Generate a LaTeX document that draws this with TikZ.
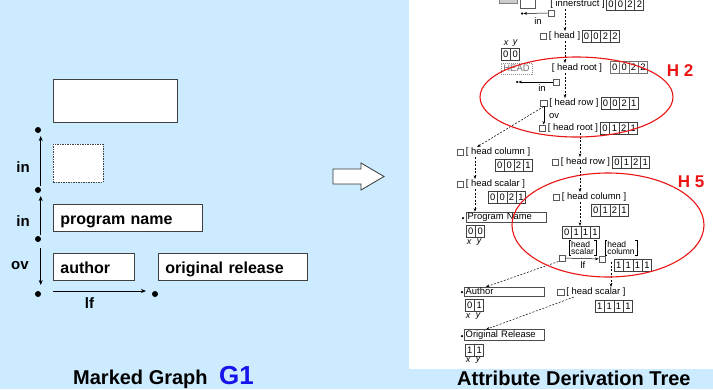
\documentclass[tikz,border=0pt]{standalone}
\usepackage{fontspec}
\setmainfont{Liberation Sans}
\usetikzlibrary{arrows.meta, positioning, shapes.multipart}

\definecolor{panel}{RGB}{204,235,255}
\definecolor{markred}{RGB}{235,20,20}
\definecolor{gblue}{RGB}{20,20,235}

\begin{document}
\begin{tikzpicture}[
  x=1pt, y=-1pt,
  font=\fontsize{9.4}{10}\selectfont,
  node distance=1.5pt,
  gbox/.style={
    draw=black!75,
    fill=white,
    line width=0.8pt,
    anchor=north west,
    inner sep=0pt,
    inner xsep=7pt,
    align=left,
    text height=13pt,
    text depth=0pt,
    font=\bfseries\fontsize{16}{16}\selectfont
  },
  gdot/.style={circle, fill=black, inner sep=0pt, minimum size=6pt},
  gtag/.style={font=\bfseries\fontsize{15}{15}\selectfont, inner sep=0pt},
  garr/.style={-{Stealth[length=5pt, width=4pt]}, line width=0.8pt},
  heading/.style={font=\bfseries\fontsize{20}{20}\selectfont, inner sep=0pt, anchor=base west},
  lab/.style={inner sep=0.5pt},
  sq/.style={draw=black!65, fill=white, inner sep=0pt, minimum size=6.5pt},
  vals/.style={
    rectangle split,
    rectangle split horizontal,
    draw=black!75,
    line width=0.6pt,
    inner xsep=1.8pt,
    inner ysep=2.6pt,
    anchor=west
  },
  leaf/.style={
    draw=black!70,
    anchor=west,
    inner xsep=1.5pt,
    inner ysep=1pt,
    text width=77pt,
    align=left
  },
  tdot/.style={circle, fill=black, inner sep=0pt, minimum size=2.5pt},
  xy/.style={font=\itshape\fontsize{9}{9}\selectfont, inner sep=0pt},
  darr/.style={dash pattern=on 2pt off 1.5pt, -{Stealth[length=3.5pt, width=2.8pt]}, line width=0.5pt},
  sarr/.style={-{Stealth[length=3.5pt, width=2.8pt]}, line width=0.5pt},
  hull/.style={draw=markred, line width=1.1pt},
  htag/.style={text=markred, font=\bfseries\fontsize{17}{17}\selectfont, inner sep=0pt},
  stack/.style={inner xsep=2pt, inner ysep=0.5pt, align=left, font=\fontsize{8.5}{7}\selectfont}
]
  \useasboundingbox (0,0) rectangle (713,389);
  \fill[panel] (0,0) rectangle (713,389);
  \fill[white] (409,0) rectangle (713,369);

  % Marked graph
  \node[gbox, minimum width=124pt, minimum height=43pt] (frame) at (53,79) {};
  \node[gbox, dash pattern=on 1.5pt off 1pt, minimum width=50pt, minimum height=38pt] (hole) at (53,144) {};
  \node[gbox, minimum width=149pt, minimum height=27pt, text width=135pt] (prog) at (53,204) {program name};
  \node[gbox, minimum width=81pt, minimum height=27pt, text width=67pt] (auth) at (53,253) {author};
  \node[gbox, minimum width=149pt, minimum height=27pt, text width=135pt] (orel) at (158,253) {original release};

  \node[gdot] (d1) at (38,130) {};
  \node[gdot] (d2) at (38,190) {};
  \node[gdot] (d3) at (38,239) {};
  \node[gdot] (d4) at (38,294) {};
  \node[gdot] (d5) at (155,294) {};

  \draw[garr, shorten <=4pt, shorten >=6pt] ([xshift=2.7pt]d2.center) -- ([xshift=2.7pt]d1.center);
  \draw[garr, shorten <=4pt, shorten >=6pt] ([xshift=2.7pt]d3.center) -- ([xshift=2.7pt]d2.center);
  \draw[garr, shorten <=9pt, shorten >=9pt] ([xshift=2.7pt]d3.center) -- ([xshift=2.7pt]d4.center);
  \draw[garr, shorten <=15pt, shorten >=9pt] ([yshift=3pt]d4.center) -- ([yshift=3pt]d5.center);

  \node[gtag] (in1) at (23,167) {in};
  \node[gtag] (in2) at (23,221) {in};
  \node[gtag] (ov) at (20,266) {ov};
  \node[gtag] (lf) at (89.5,303) {lf};

  \node[heading] (tl) at (73,384.5) {Marked Graph};
  \node[heading, text=gblue, font=\bfseries\fontsize{26}{26}\selectfont] (g1) at (219,384.5) {G1};

  % Block arrow
  \draw[draw=black!80, fill=white, line width=0.8pt]
    (333,169) -- (361,169) -- (361,163) -- (384,176.5) -- (361,190) -- (361,184) -- (333,184) -- cycle;

  \node[heading] (tr) at (457,385) {Attribute Derivation Tree};

  % Attribute derivation tree
  \begin{scope}
  \clip (409,0) rectangle (713,369);

  \coordinate (sp1) at (565,0);
  \coordinate (sp2) at (580,0);
  \coordinate (sp3) at (475,0);
  \coordinate (sp4) at (611,0);

  % innerstruct (cut by the frame)
  \node[draw=black!50, fill=black!20, minimum width=18pt, minimum height=11pt, inner sep=0pt] (cut) at (508,-2.5) {};
  \node[sq, minimum size=15pt] (isq) at (527.5,0.5) {};
  \node[lab] (inner) at (577.5,4) {[ innerstruct ]};
  \node[vals, rectangle split parts=4, right=1pt of inner] (innerv) {0\nodepart{two}0\nodepart{three}2\nodepart{four}2};

  \node[sq] (ina) at (551,13) {};
  \node[tdot] (inad) at (522,13.5) {};
  \draw[sarr] (ina) -- (inad);
  \node[lab] (ina-t) at (538,21) {in};

  % head
  \node[lab] (hd) at (564.5,36) {[ head ]};
  \node[sq, left=of hd] (hdsq) {};
  \node[vals, rectangle split parts=4, right=1pt of hd] (hdv) {0\nodepart{two}0\nodepart{three}2\nodepart{four}2};
  \draw[darr] (inner.south -| sp1) -- (hd.north -| sp1);

  \node[xy] (hx) at (506,43) {x};
  \node[xy] (hy) at (515,43) {y};
  \node[vals, rectangle split parts=2] (headv) at (501,54) {0\nodepart{two}0};
  \node[draw=black!45, dash pattern=on 1pt off 1pt, text=black!55, minimum width=31pt, minimum height=11pt, inner sep=0pt] (headbox) at (516.5,68.5) {HEAD};

  % head root
  \node[lab] (hr1) at (577,68) {[ head root ]};
  \node[vals, rectangle split parts=4, draw=black!55] (hr1v) at (610,67.5) {0\nodepart{two}0\nodepart{three}2\nodepart{four}2};
  \draw[darr] (hd.south -| sp1) -- (hr1.north -| sp1);

  \node[sq] (inb) at (556,82) {};
  \node[tdot] (inbd) at (517,82) {};
  \draw[sarr] (inb) -- (inbd);
  \node[lab] (inb-t) at (542,88) {in};

  % head row / head root
  \node[lab] (hrow1) at (574,103) {[ head row ]};
  \node[sq, left=of hrow1] (hrow1sq) {};
  \node[vals, rectangle split parts=4, right=1.5pt of hrow1] (hrow1v) {0\nodepart{two}0\nodepart{three}2\nodepart{four}1};
  \draw[darr] (hr1.south -| sp1) -- (hrow1.north -| sp1);

  \node[lab] (hr2) at (573,128) {[ head root ]};
  \node[sq, left=of hr2] (hr2sq) {};
  \node[vals, rectangle split parts=4, right=1.5pt of hr2] (hr2v) {0\nodepart{two}1\nodepart{three}2\nodepart{four}1};
  \draw[sarr] (hrow1sq.south) -- (hrow1sq.south |- hr2sq.north);
  \node[lab] (ov-t) at (554,116) {ov};

  % left column
  \node[lab] (hcol1) at (498,152) {[ head column ]};
  \node[sq, left=of hcol1] (hcol1sq) {};
  \node[vals, rectangle split parts=4] (hcol1v) at (495,165.5) {0\nodepart{two}0\nodepart{three}2\nodepart{four}1};
  \draw[darr] (hrow1sq.south) -- ([xshift=12pt]hcol1.north west);

  \node[lab] (hsc1) at (495.5,184) {[ head scalar ]};
  \node[sq, left=of hsc1] (hsc1sq) {};
  \node[vals, rectangle split parts=4] (hsc1v) at (488,197) {0\nodepart{two}0\nodepart{three}2\nodepart{four}1};
  \draw[darr] (hcol1.south -| sp3) -- (hsc1.north -| sp3);

  \node[tdot] (pnd) at (463,218) {};
  \node[leaf] (pname) at (466,217) {Program Name};
  \node[vals, rectangle split parts=2] (pnamev) at (466,231) {0\nodepart{two}0};
  \node[xy] (px) at (469,242) {x};
  \node[xy] (py) at (479,242) {y};
  \draw[darr] (hsc1.south -| sp3) -- (pname.north -| sp3);

  % right column
  \node[lab] (hrow2) at (585.5,162) {[ head row ]};
  \node[sq, left=of hrow2] (hrow2sq) {};
  \node[vals, rectangle split parts=4, right=1.5pt of hrow2] (hrow2v) {0\nodepart{two}1\nodepart{three}2\nodepart{four}1};
  \draw[darr] (hr2.south -| sp2) -- (hrow2.north -| sp2);

  \node[lab] (hcol2) at (594,197) {[ head column ]};
  \node[sq, left=of hcol2] (hcol2sq) {};
  \node[vals, rectangle split parts=4] (hcol2v) at (591,210) {0\nodepart{two}1\nodepart{three}2\nodepart{four}1};
  \draw[darr] (hrow2.south -| sp2) -- (hcol2.north -| sp2);

  \node[vals, rectangle split parts=4] (v0111) at (562,232) {0\nodepart{two}1\nodepart{three}1\nodepart{four}1};
  \draw[darr] (hcol2.south -| sp2) -- (v0111.north -| sp2);

  \node[stack] (bsc) at (582.5,247.5) {head\\scalar};
  \node[stack] (bco) at (621,247.5) {head\\column};
  \foreach \b in {bsc, bco} {
    \draw[line width=0.5pt] ([xshift=2pt]\b.north west) -| (\b.south west) -- ++(2pt,0);
    \draw[line width=0.5pt] ([xshift=-2pt]\b.north east) -| (\b.south east) -- ++(-2pt,0);
  }
  \node[sq] (lfa) at (562,258) {};
  \node[sq] (lfb) at (602,259) {};
  \draw[sarr] (lfa) -- (lfb);
  \node[lab] (lf-t) at (583,265) {lf};
  \node[vals, rectangle split parts=4] (v1111a) at (614,265) {1\nodepart{two}1\nodepart{three}1\nodepart{four}1};

  \node[lab] (hsc2) at (596,292) {[ head scalar ]};
  \node[sq, left=of hsc2] (hsc2sq) {};
  \node[vals, rectangle split parts=4] (hsc2v) at (595,306) {1\nodepart{two}1\nodepart{three}1\nodepart{four}1};
  \draw[darr] (lfb.south -| sp4) -- (hsc2.north -| sp4);

  % leaves
  \node[tdot] (aud) at (462,292) {};
  \node[leaf] (author) at (464,291.5) {Author};
  \node[vals, rectangle split parts=2] (authv) at (465,305.5) {0\nodepart{two}1};
  \node[xy] (ax) at (468,316) {x};
  \node[xy] (ay) at (478,316) {y};
  \draw[darr] (lfa.south west) -- ([xshift=22pt]author.north west);

  \node[tdot] (ord) at (462,336) {};
  \node[leaf] (orig) at (464,335) {Original Release};
  \node[vals, rectangle split parts=2] (origv) at (465,350) {1\nodepart{two}1};
  \node[xy] (ox) at (468,360) {x};
  \node[xy] (oy) at (478,360) {y};
  \draw[darr] ([xshift=8pt]hsc2.south west) -- ([xshift=22pt]orig.north west);

  % marked regions
  \draw[hull] (576.5,97) ellipse [x radius=96.5, y radius=40];
  \node[htag] (h2) at (680,71) {H 2};
  \draw[hull] (608,225) ellipse [x radius=96, y radius=52];
  \node[htag] (h5) at (691,182) {H 5};
  \end{scope}
\end{tikzpicture}
\end{document}
